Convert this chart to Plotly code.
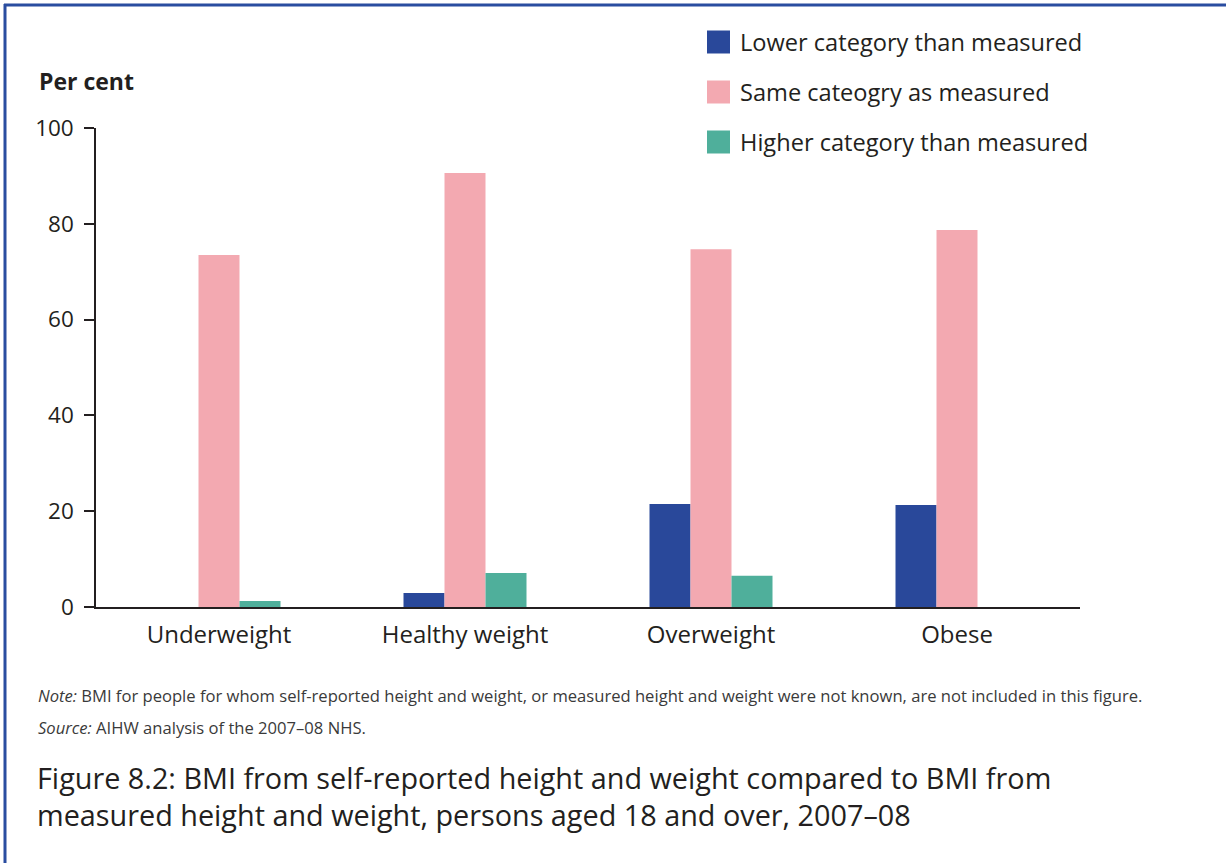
import plotly.graph_objects as go

categories = ["Underweight", "Healthy weight", "Overweight", "Obese"]
lower_vals = [0, 2.9, 21.5, 21.3]
same_vals = [73.5, 90.6, 74.7, 78.7]
higher_vals = [1.25, 7.1, 6.5, 0]
series_names = ["Lower category than measured", "Same cateogry as measured", "Higher category than measured"]
colors = ["#29489A", "#F3A9B1", "#4FAF9B"]
y_ticks = [0, 20, 40, 60, 80, 100]

FONT = "Open Sans"
TXT = "#231F20"

W, H = 1226, 863
L, R, T, B = 96, 1080, 128, 607  # plot area pixel bounds


def px(x):
    return (x - L) / (R - L)


def py(y):
    return (B - y) / (B - T)


fig = go.Figure()
for name, vals, col in zip(series_names, [lower_vals, same_vals, higher_vals], colors):
    fig.add_trace(go.Bar(x=categories, y=vals, name=name, marker=dict(color=col, line=dict(width=0)),
                         showlegend=False))

shapes = []
annotations = []

# legend
for i, (name, col) in enumerate(zip(series_names, colors)):
    cy = 42 + 50 * i
    shapes.append(dict(type="rect", xref="paper", yref="paper",
                       x0=px(707), x1=px(730), y0=py(cy - 11.5), y1=py(cy + 11.5),
                       fillcolor=col, line=dict(width=0)))
    annotations.append(dict(text=name, xref="paper", yref="paper", x=px(738), y=py(cy),
                            xanchor="left", yanchor="middle", showarrow=False,
                            font=dict(family=FONT, size=23.6, color=TXT)))

# border (left & top)
shapes.append(dict(type="line", xref="paper", yref="paper", x0=px(5), x1=px(5), y0=py(4), y1=py(H + 5),
                   line=dict(color="#2A4DA0", width=3)))
shapes.append(dict(type="line", xref="paper", yref="paper", x0=px(4), x1=px(W + 5), y0=py(5), y1=py(5),
                   line=dict(color="#2A4DA0", width=3)))

# axis title
annotations.append(dict(text="<b>Per cent</b>", xref="paper", yref="paper", x=px(37), y=py(81),
                        xanchor="left", yanchor="middle", showarrow=False,
                        font=dict(family=FONT, size=23, color=TXT)))

# note & source
annotations.append(dict(text="<i>Note:</i> BMI for people for whom self-reported height and weight, or measured height and weight were not known, are not included in this figure.",
                        xref="paper", yref="paper", x=px(36), y=py(695), xanchor="left", yanchor="middle",
                        showarrow=False, font=dict(family=FONT, size=16.6, color="#3a3a3a")))
annotations.append(dict(text="<i>Source:</i> AIHW analysis of the 2007–08 NHS.",
                        xref="paper", yref="paper", x=px(36), y=py(727), xanchor="left", yanchor="middle",
                        showarrow=False, font=dict(family=FONT, size=16.6, color="#3a3a3a")))
annotations.append(dict(text="Figure 8.2: BMI from self-reported height and weight compared to BMI from<br>measured height and weight, persons aged 18 and over, 2007–08",
                        xref="paper", yref="paper", x=px(35), y=py(796), xanchor="left", yanchor="middle",
                        align="left", showarrow=False, font=dict(family=FONT, size=28.8, color=TXT)))

fig.update_layout(
    width=W, height=H,
    margin=dict(l=L, r=W - R, t=T, b=H - B, pad=0),
    paper_bgcolor="white", plot_bgcolor="white",
    barmode="group", bargap=0.5, bargroupgap=0,
    font=dict(family=FONT, color=TXT),
    shapes=shapes, annotations=annotations,
    showlegend=False,
)
fig.update_xaxes(range=[-0.5, 3.5], showline=True, linecolor="#231F20", linewidth=2,
                 ticks="", showgrid=False, zeroline=False,
                 tickfont=dict(family=FONT, size=24, color=TXT), ticklabelstandoff=5)
fig.update_yaxes(range=[0, 100], tickvals=y_ticks, showline=True, linecolor="#231F20", linewidth=1.5,
                 ticks="outside", ticklen=10, tickwidth=1.5, tickcolor="#231F20",
                 showgrid=False, zeroline=False,
                 tickfont=dict(family=FONT, size=22.5, color=TXT), ticklabelstandoff=6)

fig.write_html("out.html", config={"displayModeBar": False},
               post_script="document.body.style.margin='0';document.body.style.overflow='hidden';")
